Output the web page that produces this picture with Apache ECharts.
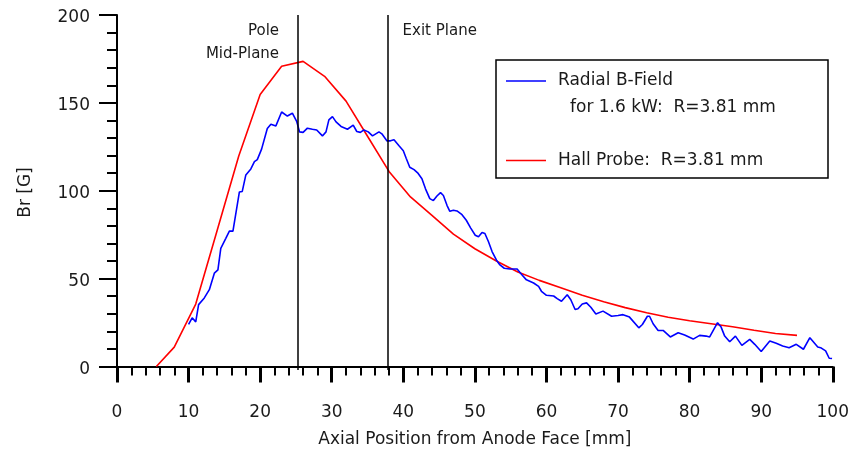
<!DOCTYPE html>
<html>
<head>
<meta charset="utf-8">
<script src="https://cdn.jsdelivr.net/npm/echarts@6/dist/echarts.min.js"></script>
<style>
  html, body { margin: 0; padding: 0; background: #fff; }
  #chart { width: 852px; height: 453px; }
</style>
</head>
<body>
<div id="chart"></div>
<script>
// Radial magnetic field along the thruster axis (positions in mm, field in gauss)
const fieldX = [10.0, 10.5, 11.0, 11.4, 12.2, 12.9, 13.6, 14.1, 14.5, 15.2, 15.7, 16.2, 17.1, 17.5, 18.0, 18.7, 19.2, 19.6, 20.2, 21.0,
  21.5, 22.2, 23.0, 23.8, 24.5, 25.1, 25.5, 26.0, 26.6, 27.3, 27.9, 28.7, 29.2, 29.6, 30.1, 30.6, 31.3, 32.2, 33.0, 33.5,
  34.0, 34.5, 35.1, 35.7, 36.6, 37.0, 37.7, 38.2, 38.7, 39.4, 40.0, 40.4, 40.9, 41.5, 42.0, 42.6, 43.1, 43.7, 44.2, 44.7,
  45.2, 45.6, 46.1, 46.5, 47.0, 47.5, 48.2, 48.8, 49.4, 50.05, 50.5, 51.0, 51.4, 51.9, 52.4, 53.0, 53.5, 54.1, 54.9, 55.9,
  56.5, 57.2, 58.2, 58.9, 59.3, 60.0, 61.0, 61.5, 62.1, 62.9, 63.4, 64.0, 64.4, 65.0, 65.6, 66.2, 66.9, 67.9, 69.1, 70.0,
  70.7, 71.6, 72.9, 73.4, 74.1, 74.4, 74.9, 75.6, 76.3, 77.3, 78.4, 79.3, 80.5, 81.4, 82.3, 82.8, 83.9, 84.4, 84.9, 85.6,
  86.4, 87.3, 88.4, 89.1, 90.0, 91.2, 92.1, 93.0, 93.9, 94.9, 95.9, 96.8, 97.9, 98.3, 99.0, 99.5, 99.9];
const fieldBr = [23.9, 27.7, 25.4, 35.2, 39, 43.7, 53.1, 55, 67.2, 72.9, 77, 77, 99.3, 99.6, 109, 112.4, 116.6, 117.7, 123.7, 135.4,
  137.9, 136.9, 144.8, 142.5, 144.1, 139.5, 133.5, 133.2, 135.6, 135, 134.6, 131.2, 133.5, 140.3, 142.2, 139.2, 136.6, 135, 137.3, 133.7,
  133.2, 134.6, 133.5, 131.2, 133.5, 132.4, 128.4, 128.4, 129, 125.6, 122.8, 118.5, 113.4, 112, 110.2, 106.8, 101.1, 95.5, 94.4, 97,
  98.9, 97.3, 91.7, 88.3, 88.9, 88.5, 86.4, 83.2, 78.9, 74.7, 73.8, 76.3, 75.7, 71, 65.4, 60.6, 57.8, 55.9, 55.5, 55.5,
  52.5, 49.3, 47.5, 45.6, 42.8, 40.5, 40.1, 38.6, 37.1, 40.8, 38, 32.4, 32.9, 35.6, 36.2, 33.7, 29.9, 31.5, 28.6, 29,
  29.5, 28.1, 22, 23.9, 28.6, 28.6, 24.3, 20.5, 20.5, 16.8, 19.2, 17.9, 15.6, 17.7, 17.3, 16.8, 24.9, 22.4, 17.3, 14.1,
  17.3, 12, 15.4, 12.6, 8.5, 14.5, 13.2, 11.7, 10.7, 12.6, 9.8, 16.4, 11.1, 10.7, 8.9, 4.7, 4.5];

// Hall probe measurements
const hallX = [5.5, 8, 11, 14, 17, 20, 23, 26, 29, 32, 35, 38, 41, 44, 47, 50, 53, 56, 59, 62, 65, 68, 71, 74, 77, 80, 83, 86, 89, 92, 95];
const hallBr = [0, 11, 35.5, 77.5, 119.6, 154.8, 170.8, 173.6, 165.1, 151, 131, 111, 96.5, 86, 75.3, 67, 60, 53.8, 49, 44.8,
  40.5, 36.8, 33.5, 30.6, 28, 26, 24.3, 22.6, 20.6, 18.8, 17.7];

// Reference planes (mm)
const planePos = [25.3, 37.8];
const planeText = [['Pole', 'Mid-Plane'], ['Exit Plane']];

// Axis ticks
const yMajorTicks = [0, 50, 100, 150, 200];
const yMinorTicks = [10, 20, 30, 40, 60, 70, 80, 90, 110, 120, 130, 140, 160, 170, 180, 190];

const legendLines = [['Radial B-Field', 'for 1.6 kW:  R=3.81 mm'], ['Hall Probe:  R=3.81 mm']];
const seriesColors = ['#0000ff', '#ff0000'];

const FONT = 'DejaVu Sans';
const TEXT = '#1a1a1a';

const zip = (xs, ys) => xs.map((x, i) => [x, ys[i]]);

const chart = echarts.init(document.getElementById('chart'), null, { renderer: 'canvas' });

// The value axis starts just below zero so the x axis sits a little under the 0 tick
const yCommon = { type: 'value', min: -2, max: 200, splitLine: { show: false } };

chart.setOption({
  backgroundColor: '#fff',
  animation: false,
  grid: { left: 117, right: 17, top: 15, bottom: 80.5 },
  xAxis: {
    type: 'value', min: 0, max: 100, interval: 10,
    name: 'Axial Position from Anode Face [mm]',
    nameLocation: 'middle', nameGap: 61,
    nameTextStyle: { fontFamily: FONT, fontSize: 17, color: TEXT },
    axisLine: { lineStyle: { color: '#000', width: 2 } },
    axisTick: { inside: false, length: 16, lineStyle: { color: '#000', width: 3 } },
    minorTick: { show: true, splitNumber: 5, length: 9, lineStyle: { color: '#000', width: 2 } },
    axisLabel: { margin: 34, fontFamily: FONT, fontSize: 17, color: TEXT },
    splitLine: { show: false }
  },
  yAxis: [
    Object.assign({}, yCommon, {
      name: 'Br [G]', nameLocation: 'middle', nameGap: 83, nameRotate: 90,
      nameTextStyle: { fontFamily: FONT, fontSize: 17, color: TEXT },
      axisLine: { show: true, lineStyle: { color: '#000', width: 2 } },
      axisTick: { show: true, inside: false, length: 18, customValues: yMajorTicks, lineStyle: { color: '#000', width: 2 } },
      axisLabel: {
        margin: 27, customValues: yMajorTicks, verticalAlign: 'top', lineHeight: 6,
        fontFamily: FONT, fontSize: 17, color: TEXT
      }
    }),
    Object.assign({}, yCommon, {
      position: 'left',
      axisLine: { show: false },
      axisTick: { show: true, inside: false, length: 10, customValues: yMinorTicks, lineStyle: { color: '#000', width: 2 } },
      axisLabel: { show: false }
    })
  ],
  series: [
    {
      name: 'Radial B-Field', type: 'line', data: zip(fieldX, fieldBr),
      showSymbol: false, lineStyle: { color: seriesColors[0], width: 1.6 },
      z: 3,
      markLine: {
        silent: true, symbol: 'none', label: { show: false },
        lineStyle: { color: '#000', width: 1.5, type: 'solid' },
        data: planePos.map(p => ({ xAxis: p }))
      }
    },
    {
      name: 'Hall Probe', type: 'line', data: zip(hallX, hallBr),
      showSymbol: false, lineStyle: { color: seriesColors[1], width: 1.6 },
      z: 2
    }
  ]
});

// Plane captions placed beside their lines
const topY = chart.convertToPixel({ yAxisIndex: 0 }, 200);
const graphics = [];
planeText.forEach((lines, i) => {
  const px = chart.convertToPixel({ xAxisIndex: 0 }, planePos[i]);
  const leftSide = i === 0;
  lines.forEach((t, j) => {
    graphics.push({
      type: 'text',
      x: leftSide ? px - 19 : px + 15,
      y: topY + 16 + j * 22.7,
      style: {
        text: t, font: '15px "' + FONT + '"', fill: TEXT,
        align: leftSide ? 'right' : 'left', verticalAlign: 'middle'
      }
    });
  });
});

// Legend box
graphics.push({
  type: 'rect', shape: { x: 496, y: 60, width: 332, height: 118 },
  style: { fill: '#fff', stroke: '#000', lineWidth: 1.5 }, z: 10
});
const legendRows = [81, 160.5];
legendLines.forEach((lines, i) => {
  const y = legendRows[i];
  graphics.push({
    type: 'line', shape: { x1: 506, y1: y, x2: 546, y2: y },
    style: { stroke: seriesColors[i], lineWidth: 1.6 }, z: 11
  });
  lines.forEach((t, j) => {
    graphics.push({
      type: 'text', x: j === 0 ? 558 : 570, y: y + j * 26.5, z: 11,
      style: { text: t, font: '17px "' + FONT + '"', fill: TEXT, verticalAlign: 'middle' }
    });
  });
});

chart.setOption({ graphic: graphics });
</script>
</body>
</html>
